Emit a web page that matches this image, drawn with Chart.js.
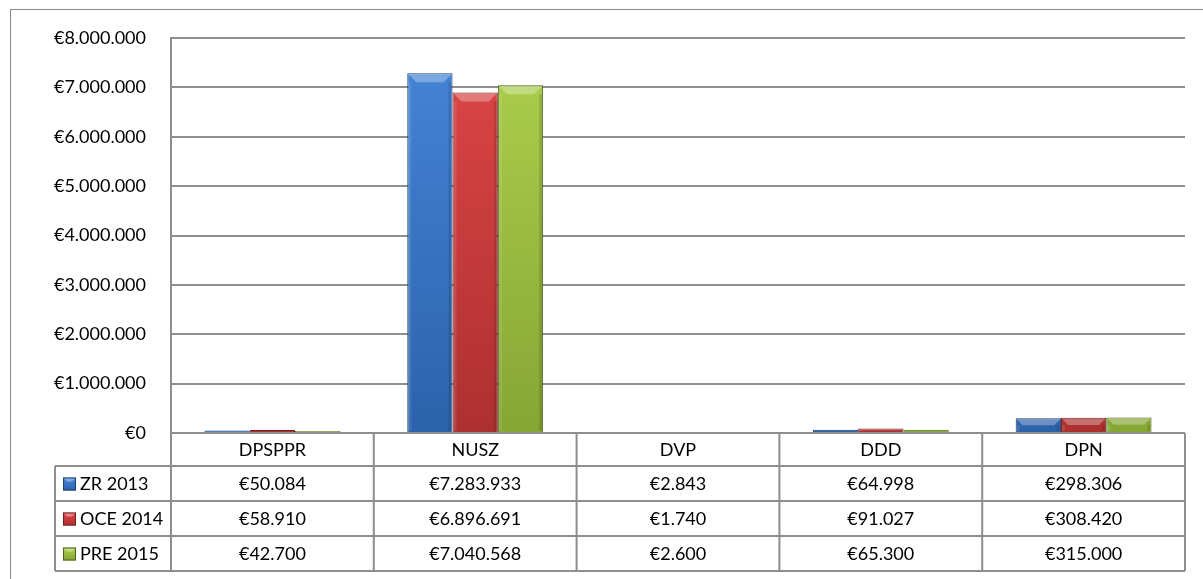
<!DOCTYPE html>
<html>
<head>
<meta charset="utf-8">
<script src="https://cdn.jsdelivr.net/npm/chart.js@4"></script>
<style>
  html, body { margin: 0; padding: 0; background: #fff; overflow: hidden; }
  #frame { position: absolute; left: 10px; top: 9px; width: 1300px; height: 700px; border: 1.5px solid #8a8a8a; }
  #wrap { position: absolute; left: 0; top: 0; width: 1203px; height: 579px; }
</style>
</head>
<body>
<div id="frame"></div>
<div id="wrap"><canvas id="chart" width="1203" height="579"></canvas></div>
<script>
const categories = ['DPSPPR', 'NUSZ', 'DVP', 'DDD', 'DPN'];
const seriesNames = ['ZR 2013', 'OCE 2014', 'PRE 2015'];
const zr2013 = [50084, 7283933, 2843, 64998, 298306];
const oce2014 = [58910, 6896691, 1740, 91027, 308420];
const pre2015 = [42700, 7040568, 2600, 65300, 315000];
const yTicks = [0, 1000000, 2000000, 3000000, 4000000, 5000000, 6000000, 7000000, 8000000];

// colours per series: top, bottom, border
const palette = [
  { top: '#4685d8', bottom: '#2c62aa', border: '#1d4274' },
  { top: '#e04646', bottom: '#ad3030', border: '#742020' },
  { top: '#aed04c', bottom: '#86a634', border: '#4c6120' }
];

const FONT = 'Lato, "Open Sans", sans-serif';
const euro = v => '€' + String(v).replace(/\B(?=(\d{3})+(?!\d))/g, '.');

// gradient fill for each bar
const barFill = (idx) => (ctx) => {
  const chart = ctx.chart;
  const area = chart.chartArea;
  if (!area) return palette[idx].bottom;
  const g = chart.ctx.createLinearGradient(0, area.top, 0, area.bottom);
  g.addColorStop(0, palette[idx].top);
  g.addColorStop(1, palette[idx].bottom);
  return g;
};

// bevel highlight on top of every bar
const bevelPlugin = {
  id: 'bevel',
  afterDatasetsDraw(chart) {
    const ctx = chart.ctx;
    chart.data.datasets.forEach((ds, di) => {
      chart.getDatasetMeta(di).data.forEach(bar => {
        const { x, y, base, width } = bar.getProps(['x', 'y', 'base', 'width'], true);
        const h = base - y;
        if (h < 3) return;
        const l = x - width / 2, r = x + width / 2;
        const d = Math.min(9, h / 2);
        ctx.save();
        ctx.fillStyle = 'rgba(255,255,255,0.30)';
        ctx.beginPath();
        ctx.moveTo(l + 1, y + 1);
        ctx.lineTo(r - 1, y + 1);
        ctx.lineTo(r - d, y + d);
        ctx.lineTo(l + d, y + d);
        ctx.closePath();
        ctx.fill();
        ctx.fillStyle = 'rgba(0,0,0,0.12)';
        ctx.fillRect(r - 4, y + d, 3, h - d - 1);
        ctx.fillStyle = 'rgba(255,255,255,0.10)';
        ctx.fillRect(l + 1, y + d, 3, h - d - 1);
        ctx.restore();
      });
    });
  }
};

// data table under the plot
const tablePlugin = {
  id: 'dataTable',
  afterDraw(chart) {
    const ctx = chart.ctx;
    const area = chart.chartArea;
    const xs = chart.scales.x;
    const step = (area.right - area.left) / categories.length;
    const edges = categories.map((c, i) => xs.getPixelForValue(i) - step / 2);
    edges.push(area.right);
    const legendLeft = 55;
    const headerH = 33, rowH = 35;
    const top = area.bottom;
    const rowsTop = top + headerH;
    const bottom = rowsTop + rowH * seriesNames.length;
    const rows = [zr2013, oce2014, pre2015];

    ctx.save();
    ctx.strokeStyle = '#8e8e8e';
    ctx.lineWidth = 2;
    ctx.beginPath();
    ctx.moveTo(area.left, top); ctx.lineTo(area.right, top);
    for (let r = 0; r <= seriesNames.length; r++) {
      const yy = rowsTop + r * rowH;
      ctx.moveTo(legendLeft, yy); ctx.lineTo(area.right, yy);
    }
    edges.forEach(ex => { ctx.moveTo(ex, top); ctx.lineTo(ex, bottom); });
    ctx.moveTo(legendLeft, rowsTop); ctx.lineTo(legendLeft, bottom);
    ctx.stroke();

    ctx.fillStyle = '#000';
    ctx.font = '18px ' + FONT;
    ctx.textBaseline = 'middle';
    ctx.textAlign = 'center';
    categories.forEach((c, i) => ctx.fillText(c, xs.getPixelForValue(i), top + headerH / 2 + 1));
    rows.forEach((vals, r) => {
      const cy = rowsTop + r * rowH + rowH / 2 + 1;
      vals.forEach((v, i) => ctx.fillText(euro(v), xs.getPixelForValue(i), cy));
      // legend key
      const kx = 63, ky = cy - 7, ks = 13;
      const g = ctx.createLinearGradient(0, ky, 0, ky + ks);
      g.addColorStop(0, palette[r].top);
      g.addColorStop(1, palette[r].bottom);
      ctx.fillStyle = g;
      ctx.fillRect(kx, ky, ks, ks);
      ctx.fillStyle = 'rgba(255,255,255,0.35)';
      ctx.beginPath();
      ctx.moveTo(kx, ky); ctx.lineTo(kx + ks, ky); ctx.lineTo(kx + ks - 4, ky + 4); ctx.lineTo(kx + 4, ky + 4);
      ctx.closePath(); ctx.fill();
      ctx.strokeStyle = palette[r].border; ctx.lineWidth = 1;
      ctx.strokeRect(kx + 0.5, ky + 0.5, ks - 1, ks - 1);
      ctx.fillStyle = '#000';
      ctx.textAlign = 'left';
      ctx.fillText(seriesNames[r], 80, cy);
      ctx.textAlign = 'center';
    });
    ctx.restore();
  }
};

new Chart(document.getElementById('chart'), {
  type: 'bar',
  data: {
    labels: categories,
    datasets: [zr2013, oce2014, pre2015].map((vals, i) => ({
      label: seriesNames[i],
      data: vals,
      backgroundColor: barFill(i),
      borderColor: palette[i].border,
      borderWidth: 1,
      categoryPercentage: 0.67,
      barPercentage: 1.0
    }))
  },
  options: {
    responsive: false,
    animation: false,
    layout: { padding: { top: 38, right: 18, bottom: 146, left: 0 } },
    plugins: { legend: { display: false }, tooltip: { enabled: false } },
    scales: {
      x: { display: false },
      y: {
        min: 0,
        max: 8000000,
        afterBuildTicks: axis => { axis.ticks = yTicks.map(v => ({ value: v })); },
        afterFit: axis => { axis.width = 171; },
        grid: { color: '#8e8e8e', lineWidth: 2, drawTicks: false },
        border: { display: true, color: '#8e8e8e', width: 2 },
        ticks: {
          padding: 25,
          color: '#000',
          font: { family: FONT, size: 18 },
          callback: v => euro(v)
        }
      }
    }
  },
  plugins: [bevelPlugin, tablePlugin]
});
</script>
</body>
</html>
